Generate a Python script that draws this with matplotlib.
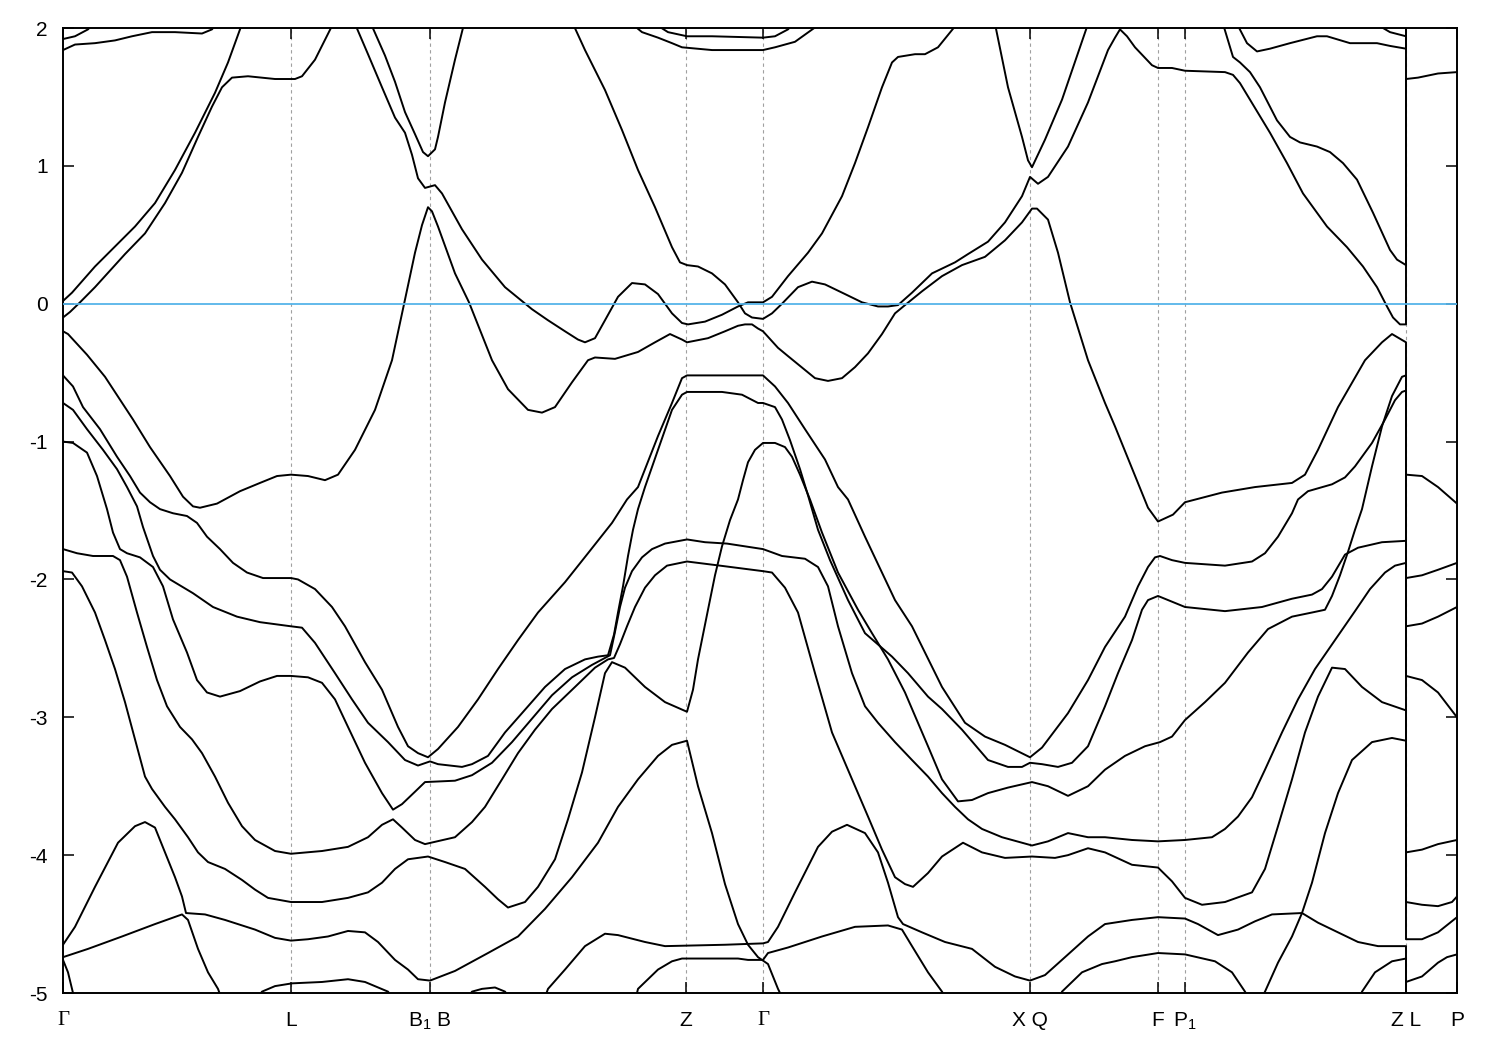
import matplotlib
matplotlib.use('Agg')
import matplotlib.pyplot as plt

plt.rcParams['font.family'] = ['Liberation Sans', 'DejaVu Sans']
plt.rcParams['mathtext.fontset'] = 'custom'
plt.rcParams['mathtext.rm'] = 'Liberation Sans'
plt.rcParams['mathtext.it'] = 'Liberation Sans'
plt.rcParams['axes.unicode_minus'] = False

# high-symmetry points along the k-path (path length units)
k_ticks = [0.00, 2.28, 3.67, 6.23, 7.00, 9.67, 10.95, 11.22, 13.43, 13.94]
k_labels = ['Γ', 'L', 'B$_1$ B', 'Z', 'Γ', 'X Q', 'F', 'P$_1$', 'Z L', 'P']
e_ticks = [-5, -4, -3, -2, -1, 0, 1, 2]

# bands: (k, energy in eV)
band_t1 = [(0.00, 1.92), (0.12, 1.94), (0.25, 1.99), (0.30, 2.03)]
band_t2 = [(0.00, 1.84), (0.12, 1.88), (0.32, 1.89), (0.52, 1.91), (0.69, 1.94), (0.89, 1.97),
           (1.12, 1.97), (1.39, 1.96), (1.49, 1.99), (1.53, 2.03)]
band_c3 = [(0.00, 0.02), (0.09, 0.08), (0.32, 0.27), (0.72, 0.56), (0.92, 0.73), (1.12, 0.97),
           (1.32, 1.24), (1.52, 1.53), (1.65, 1.75), (1.79, 2.03)]
band_c4 = [(0.00, -0.10), (0.07, -0.06), (0.17, 0.01), (0.32, 0.12), (0.62, 0.36), (0.82, 0.51),
           (1.02, 0.73), (1.19, 0.95), (1.35, 1.21), (1.49, 1.43), (1.59, 1.57), (1.69, 1.64),
           (1.85, 1.65), (2.12, 1.63), (2.32, 1.63), (2.39, 1.65), (2.52, 1.77), (2.70, 2.03)]
band_c5 = [(0.00, -0.20), (0.05, -0.22), (0.24, -0.37), (0.42, -0.53), (0.70, -0.84), (0.87, -1.04),
           (1.07, -1.25), (1.20, -1.40), (1.30, -1.47), (1.37, -1.48), (1.54, -1.45), (1.77, -1.36),
           (1.97, -1.30), (2.14, -1.25), (2.28, -1.24), (2.45, -1.25), (2.62, -1.28), (2.75, -1.24),
           (2.92, -1.06), (3.12, -0.77), (3.29, -0.41), (3.42, 0.03), (3.52, 0.37), (3.59, 0.57),
           (3.65, 0.70), (3.69, 0.67), (3.75, 0.56), (3.92, 0.22), (4.06, 0.01), (4.29, -0.41),
           (4.45, -0.62), (4.65, -0.77), (4.79, -0.79), (4.92, -0.75), (5.09, -0.57), (5.25, -0.41),
           (5.32, -0.39), (5.52, -0.40), (5.75, -0.35), (5.92, -0.28), (6.07, -0.22), (6.19, -0.26),
           (6.24, -0.28), (6.45, -0.25), (6.62, -0.20), (6.75, -0.16), (6.82, -0.15), (6.89, -0.15),
           (6.95, -0.18), (7.00, -0.20), (7.15, -0.32), (7.25, -0.38), (7.52, -0.54), (7.65, -0.56),
           (7.79, -0.54), (7.92, -0.46), (8.05, -0.36), (8.19, -0.22), (8.32, -0.07), (8.42, -0.01),
           (8.59, 0.09), (8.79, 0.20), (8.99, 0.28), (9.22, 0.34), (9.42, 0.46), (9.59, 0.59),
           (9.69, 0.69), (9.74, 0.69), (9.85, 0.61), (9.95, 0.37), (10.07, 0.01), (10.25, -0.41),
           (10.42, -0.72), (10.52, -0.89), (10.85, -1.48), (10.95, -1.58), (11.10, -1.53), (11.22, -1.44),
           (11.59, -1.37), (11.92, -1.33), (12.29, -1.30), (12.42, -1.24), (12.55, -1.06), (12.75, -0.75),
           (13.02, -0.41), (13.19, -0.28), (13.29, -0.22), (13.43, -0.28), (13.43, -1.24), (13.59, -1.25),
           (13.75, -1.33), (13.94, -1.45)]
band_c6 = [(3.08, 2.03), (3.22, 1.80), (3.32, 1.61), (3.42, 1.39), (3.52, 1.23), (3.60, 1.10),
           (3.65, 1.07), (3.72, 1.12), (3.75, 1.21), (3.82, 1.46), (3.92, 1.77), (4.01, 2.03)]
band_c7 = [(2.92, 2.03), (3.05, 1.81), (3.19, 1.57), (3.32, 1.35), (3.42, 1.24), (3.49, 1.08),
           (3.55, 0.91), (3.62, 0.84), (3.67, 0.85), (3.72, 0.86), (3.79, 0.80), (3.99, 0.54),
           (4.19, 0.32), (4.42, 0.12), (4.69, -0.04), (4.85, -0.12), (5.02, -0.20), (5.15, -0.26),
           (5.22, -0.28), (5.32, -0.25), (5.42, -0.12), (5.55, 0.05), (5.69, 0.15), (5.82, 0.14),
           (5.95, 0.07), (6.09, -0.07), (6.19, -0.14), (6.25, -0.15), (6.42, -0.13), (6.59, -0.08),
           (6.75, -0.02), (6.85, 0.01), (7.00, 0.01), (7.09, 0.05), (7.25, 0.20), (7.45, 0.37),
           (7.59, 0.51), (7.79, 0.78), (7.92, 1.02), (8.05, 1.28), (8.19, 1.57), (8.29, 1.75),
           (8.35, 1.79), (8.52, 1.81), (8.62, 1.81), (8.75, 1.86), (8.94, 2.03)]
band_c8 = [(5.10, 2.03), (5.22, 1.84), (5.42, 1.55), (5.59, 1.26), (5.75, 0.97), (5.92, 0.70),
           (6.09, 0.41), (6.17, 0.30), (6.24, 0.28), (6.35, 0.27), (6.49, 0.22), (6.62, 0.14),
           (6.75, 0.01), (6.82, -0.07), (6.89, -0.10), (7.00, -0.11), (7.09, -0.07), (7.19, 0.00),
           (7.35, 0.12), (7.49, 0.16), (7.62, 0.14), (7.82, 0.07), (7.99, 0.01), (8.15, -0.02),
           (8.25, -0.02), (8.35, -0.01), (8.49, 0.08), (8.69, 0.22), (8.92, 0.30), (9.05, 0.36),
           (9.25, 0.45), (9.42, 0.59), (9.59, 0.78), (9.67, 0.92), (9.75, 0.87), (9.85, 0.92),
           (10.05, 1.14), (10.25, 1.46), (10.45, 1.84), (10.52, 1.93), (10.57, 1.99), (10.64, 1.94),
           (10.72, 1.86), (10.89, 1.73), (10.95, 1.71), (11.09, 1.71), (11.22, 1.69), (11.62, 1.68),
           (11.70, 1.66), (11.77, 1.60), (11.87, 1.48), (12.07, 1.24), (12.24, 1.02), (12.40, 0.80),
           (12.64, 0.56), (12.84, 0.41), (13.00, 0.27), (13.14, 0.12), (13.24, -0.02), (13.30, -0.10),
           (13.37, -0.15), (13.43, -0.15), (13.43, 1.63), (13.55, 1.64), (13.75, 1.67), (13.94, 1.68)]
band_c9 = [(9.32, 2.03), (9.45, 1.57), (9.59, 1.21), (9.65, 1.04), (9.69, 0.99), (9.82, 1.19),
           (9.99, 1.48), (10.25, 2.03)]
band_tg1 = [(5.69, 2.03), (5.79, 1.97), (5.95, 1.93), (6.09, 1.89), (6.19, 1.86), (6.49, 1.84),
            (7.00, 1.84), (7.12, 1.86), (7.32, 1.90), (7.57, 2.03)]
band_tg2 = [(5.92, 2.03), (6.05, 1.97), (6.24, 1.94), (6.49, 1.94), (7.00, 1.93), (7.12, 1.94),
            (7.25, 1.99), (7.30, 2.03)]
band_r1 = [(11.60, 2.03), (11.70, 1.79), (11.77, 1.75), (11.87, 1.68), (11.97, 1.57), (12.14, 1.33),
           (12.27, 1.21), (12.37, 1.17), (12.54, 1.14), (12.67, 1.10), (12.80, 1.02), (12.94, 0.90),
           (13.10, 0.66), (13.27, 0.39), (13.34, 0.32), (13.43, 0.28), (13.43, 2.30)]
band_r2 = [(11.74, 2.03), (11.84, 1.89), (11.94, 1.83), (12.07, 1.85), (12.27, 1.89), (12.54, 1.94),
           (12.64, 1.94), (12.87, 1.89), (13.14, 1.89), (13.27, 1.87), (13.43, 1.85), (13.43, 2.30)]
band_r3 = [(13.13, 2.03), (13.27, 1.97), (13.43, 1.94), (13.43, 2.30)]
band_l2 = [(0.00, -0.52), (0.10, -0.60), (0.20, -0.75), (0.37, -0.91), (0.54, -1.11), (0.67, -1.25),
           (0.77, -1.37), (0.87, -1.44), (0.97, -1.49), (1.10, -1.52), (1.24, -1.54), (1.34, -1.59),
           (1.44, -1.69), (1.57, -1.78), (1.70, -1.88), (1.84, -1.95), (2.00, -1.99), (2.28, -1.99),
           (2.35, -2.00), (2.52, -2.07), (2.69, -2.20), (2.82, -2.34), (3.02, -2.60), (3.19, -2.80),
           (3.35, -3.07), (3.45, -3.21), (3.55, -3.26), (3.65, -3.29), (3.75, -3.23), (3.95, -3.07),
           (4.15, -2.87), (4.35, -2.65), (4.55, -2.44), (4.75, -2.24), (5.02, -2.02), (5.25, -1.81),
           (5.49, -1.59), (5.64, -1.42), (5.75, -1.33), (5.95, -0.96), (6.09, -0.72), (6.19, -0.54),
           (6.24, -0.52), (7.00, -0.52), (7.12, -0.60), (7.25, -0.72), (7.42, -0.91), (7.62, -1.13),
           (7.75, -1.33), (7.85, -1.42), (8.02, -1.69), (8.32, -2.15), (8.49, -2.34), (8.79, -2.78),
           (9.02, -3.04), (9.22, -3.14), (9.42, -3.20), (9.67, -3.29), (9.79, -3.22), (10.05, -2.97),
           (10.25, -2.73), (10.42, -2.49), (10.62, -2.27), (10.75, -2.05), (10.85, -1.91), (10.92, -1.84),
           (10.97, -1.83), (11.09, -1.86), (11.22, -1.88), (11.42, -1.89), (11.62, -1.90), (11.89, -1.87),
           (12.02, -1.81), (12.15, -1.69), (12.29, -1.52), (12.35, -1.42), (12.45, -1.36), (12.69, -1.31),
           (12.82, -1.26), (12.92, -1.18), (13.09, -1.01), (13.22, -0.84), (13.32, -0.70), (13.39, -0.64),
           (13.43, -0.63), (13.43, -2.34), (13.59, -2.32), (13.75, -2.27), (13.94, -2.20)]
band_l3 = [(0.00, -0.72), (0.10, -0.77), (0.24, -0.91), (0.40, -1.06), (0.54, -1.20), (0.64, -1.33),
           (0.74, -1.47), (0.80, -1.62), (0.90, -1.83), (0.97, -1.93), (1.07, -2.00), (1.30, -2.10),
           (1.50, -2.20), (1.74, -2.27), (1.97, -2.31), (2.28, -2.34), (2.39, -2.35), (2.52, -2.46),
           (2.72, -2.68), (2.89, -2.87), (3.05, -3.04), (3.25, -3.18), (3.42, -3.31), (3.55, -3.35),
           (3.67, -3.32), (3.75, -3.34), (3.99, -3.36), (4.09, -3.34), (4.25, -3.28), (4.42, -3.11),
           (4.59, -2.97), (4.82, -2.78), (5.02, -2.65), (5.22, -2.58), (5.35, -2.56), (5.45, -2.55),
           (5.51, -2.40), (5.55, -2.24), (5.60, -2.05), (5.65, -1.83), (5.70, -1.64), (5.75, -1.49),
           (5.82, -1.33), (5.95, -1.06), (6.09, -0.77), (6.19, -0.66), (6.24, -0.64), (6.59, -0.64),
           (6.79, -0.66), (6.95, -0.72), (7.00, -0.72), (7.12, -0.75), (7.19, -0.84), (7.27, -0.99),
           (7.37, -1.20), (7.45, -1.39), (7.55, -1.64), (7.67, -1.86), (7.85, -2.15), (8.02, -2.39),
           (8.29, -2.56), (8.45, -2.68), (8.65, -2.85), (8.79, -2.94), (8.99, -3.09), (9.25, -3.31),
           (9.45, -3.36), (9.59, -3.36), (9.67, -3.33), (9.79, -3.34), (9.95, -3.36), (10.09, -3.33),
           (10.25, -3.21), (10.42, -2.92), (10.55, -2.68), (10.69, -2.44), (10.79, -2.22), (10.85, -2.15),
           (10.95, -2.12), (11.22, -2.20), (11.62, -2.23), (11.99, -2.20), (12.29, -2.14), (12.49, -2.11),
           (12.59, -2.07), (12.69, -1.98), (12.82, -1.82), (12.95, -1.77), (13.19, -1.73), (13.43, -1.72),
           (13.43, -2.70), (13.59, -2.73), (13.75, -2.82), (13.94, -3.00)]
band_l4 = [(0.00, -1.00), (0.10, -1.01), (0.24, -1.08), (0.34, -1.25), (0.44, -1.49), (0.50, -1.66),
           (0.57, -1.78), (0.64, -1.81), (0.77, -1.84), (0.90, -1.91), (1.00, -2.05), (1.10, -2.29),
           (1.24, -2.53), (1.34, -2.73), (1.44, -2.82), (1.57, -2.85), (1.77, -2.81), (1.97, -2.74),
           (2.14, -2.70), (2.28, -2.70), (2.45, -2.71), (2.59, -2.75), (2.72, -2.87), (2.85, -3.07),
           (3.02, -3.33), (3.19, -3.55), (3.30, -3.67), (3.39, -3.63), (3.52, -3.54), (3.62, -3.47),
           (3.92, -3.46), (4.09, -3.42), (4.29, -3.33), (4.49, -3.18), (4.69, -3.01), (4.89, -2.84),
           (5.09, -2.71), (5.29, -2.62), (5.47, -2.55), (5.52, -2.38), (5.57, -2.20), (5.62, -2.06),
           (5.69, -1.94), (5.79, -1.84), (5.89, -1.78), (6.02, -1.74), (6.24, -1.71), (6.42, -1.73),
           (6.64, -1.74), (7.00, -1.78), (7.19, -1.83), (7.42, -1.85), (7.55, -1.91), (7.65, -2.05),
           (7.75, -2.34), (7.89, -2.68), (8.02, -2.92), (8.15, -3.04), (8.32, -3.18), (8.49, -3.31),
           (8.65, -3.43), (8.79, -3.55), (8.92, -3.65), (9.05, -3.74), (9.19, -3.81), (9.39, -3.87),
           (9.59, -3.91), (9.69, -3.93), (9.85, -3.90), (10.05, -3.84), (10.25, -3.87), (10.42, -3.87),
           (10.69, -3.89), (10.95, -3.90), (11.22, -3.89), (11.49, -3.87), (11.62, -3.81), (11.75, -3.72),
           (11.89, -3.58), (12.02, -3.38), (12.19, -3.11), (12.35, -2.87), (12.52, -2.65), (12.72, -2.44),
           (12.92, -2.23), (13.07, -2.07), (13.22, -1.95), (13.32, -1.90), (13.43, -1.88), (13.43, -3.98),
           (13.59, -3.96), (13.75, -3.92), (13.94, -3.89)]
band_l5 = [(0.00, -1.78), (0.14, -1.81), (0.30, -1.83), (0.50, -1.83), (0.57, -1.86), (0.64, -1.98),
           (0.74, -2.24), (0.84, -2.49), (0.94, -2.73), (1.04, -2.92), (1.17, -3.07), (1.29, -3.16),
           (1.39, -3.26), (1.52, -3.43), (1.65, -3.62), (1.79, -3.79), (1.92, -3.89), (2.12, -3.97),
           (2.28, -3.99), (2.59, -3.97), (2.85, -3.94), (3.05, -3.87), (3.19, -3.78), (3.30, -3.74),
           (3.39, -3.80), (3.52, -3.89), (3.62, -3.92), (3.92, -3.87), (4.09, -3.76), (4.22, -3.65),
           (4.39, -3.45), (4.55, -3.26), (4.72, -3.09), (4.89, -2.94), (5.12, -2.78), (5.32, -2.64),
           (5.45, -2.58), (5.51, -2.57), (5.57, -2.47), (5.64, -2.34), (5.72, -2.20), (5.82, -2.06),
           (5.92, -1.97), (6.04, -1.90), (6.24, -1.87), (6.57, -1.90), (7.00, -1.94), (7.09, -1.95),
           (7.22, -2.06), (7.35, -2.24), (7.52, -2.68), (7.69, -3.11), (7.92, -3.50), (8.05, -3.72),
           (8.19, -3.96), (8.32, -4.16), (8.42, -4.21), (8.50, -4.23), (8.65, -4.13), (8.79, -4.01),
           (9.00, -3.91), (9.19, -3.98), (9.42, -4.02), (9.69, -4.01), (9.92, -4.02), (10.05, -4.00),
           (10.25, -3.95), (10.42, -3.98), (10.69, -4.07), (10.95, -4.09), (11.09, -4.19), (11.22, -4.31),
           (11.39, -4.36), (11.62, -4.34), (11.89, -4.27), (12.02, -4.10), (12.15, -3.79), (12.29, -3.45),
           (12.42, -3.11), (12.55, -2.85), (12.69, -2.64), (12.82, -2.65), (12.99, -2.78), (13.19, -2.89),
           (13.43, -2.95), (13.43, -4.34), (13.59, -4.36), (13.75, -4.37), (13.89, -4.34), (13.94, -4.30)]
band_l6 = [(0.00, -1.94), (0.09, -1.95), (0.19, -2.05), (0.32, -2.24), (0.42, -2.44), (0.52, -2.65),
           (0.62, -2.89), (0.72, -3.16), (0.82, -3.43), (0.89, -3.52), (1.02, -3.65), (1.12, -3.74),
           (1.25, -3.87), (1.35, -3.98), (1.45, -4.05), (1.62, -4.10), (1.79, -4.18), (1.92, -4.25),
           (2.05, -4.31), (2.28, -4.34), (2.59, -4.34), (2.85, -4.31), (3.05, -4.27), (3.19, -4.20),
           (3.32, -4.10), (3.45, -4.03), (3.65, -4.01), (3.82, -4.05), (4.02, -4.10), (4.22, -4.23),
           (4.35, -4.32), (4.45, -4.38), (4.62, -4.34), (4.75, -4.23), (4.92, -4.03), (5.05, -3.74),
           (5.19, -3.40), (5.32, -3.00), (5.42, -2.68), (5.49, -2.60), (5.62, -2.64), (5.82, -2.78),
           (6.02, -2.89), (6.24, -2.96), (6.30, -2.80), (6.35, -2.58), (6.45, -2.22), (6.52, -1.97),
           (6.59, -1.76), (6.67, -1.57), (6.75, -1.42), (6.80, -1.28), (6.85, -1.15), (6.92, -1.06),
           (7.00, -1.01), (7.12, -1.01), (7.22, -1.04), (7.29, -1.11), (7.37, -1.24), (7.47, -1.42),
           (7.59, -1.66), (7.75, -1.95), (7.95, -2.22), (8.09, -2.39), (8.25, -2.58), (8.42, -2.82),
           (8.65, -3.21), (8.79, -3.45), (8.95, -3.61), (9.09, -3.60), (9.25, -3.55), (9.45, -3.51),
           (9.69, -3.47), (9.85, -3.50), (10.05, -3.57), (10.25, -3.50), (10.42, -3.38), (10.62, -3.28),
           (10.82, -3.21), (10.97, -3.18), (11.09, -3.14), (11.22, -3.02), (11.42, -2.89), (11.62, -2.75),
           (11.85, -2.53), (12.05, -2.36), (12.29, -2.27), (12.49, -2.24), (12.62, -2.22), (12.69, -2.12),
           (12.77, -1.97), (12.85, -1.80), (12.92, -1.64), (12.99, -1.49), (13.09, -1.18), (13.19, -0.89),
           (13.29, -0.67), (13.39, -0.53), (13.43, -0.52), (13.43, -1.99), (13.59, -1.97), (13.75, -1.93),
           (13.94, -1.88)]
band_g1 = [(0.00, -4.65), (0.12, -4.52), (0.32, -4.23), (0.55, -3.91), (0.72, -3.79), (0.82, -3.76),
           (0.92, -3.80), (1.02, -3.98), (1.12, -4.16), (1.19, -4.30), (1.23, -4.42), (1.42, -4.43),
           (1.62, -4.47), (1.92, -4.54), (2.12, -4.60), (2.28, -4.62), (2.45, -4.61), (2.65, -4.59),
           (2.85, -4.55), (3.02, -4.56), (3.15, -4.63), (3.32, -4.76), (3.45, -4.83), (3.55, -4.90),
           (3.67, -4.91), (3.92, -4.84), (4.25, -4.71), (4.55, -4.59), (4.82, -4.39), (5.09, -4.16),
           (5.35, -3.91), (5.55, -3.65), (5.75, -3.45), (5.95, -3.28), (6.09, -3.20), (6.24, -3.17),
           (6.35, -3.50), (6.49, -3.84), (6.62, -4.21), (6.75, -4.50), (6.85, -4.65), (6.95, -4.74),
           (7.05, -4.79), (7.15, -4.97), (7.19, -5.03)]
band_g2 = [(0.00, -4.74), (0.25, -4.68), (0.59, -4.59), (0.92, -4.50), (1.19, -4.43), (1.25, -4.47),
           (1.35, -4.68), (1.45, -4.85), (1.55, -4.97), (1.58, -5.03)]
band_g3 = [(0.00, -4.76), (0.05, -4.85), (0.09, -4.97), (0.11, -5.03)]
band_g4 = [(1.95, -5.03), (1.99, -4.99), (2.12, -4.95), (2.29, -4.93), (2.59, -4.92), (2.85, -4.90),
           (3.02, -4.92), (3.25, -4.99), (3.29, -5.03)]
band_g5 = [(4.05, -5.03), (4.09, -4.99), (4.19, -4.97), (4.32, -4.96), (4.42, -4.99), (4.46, -5.03)]
band_f = [(4.82, -5.03), (4.85, -4.97), (5.02, -4.83), (5.22, -4.66), (5.42, -4.57), (5.55, -4.58),
          (5.82, -4.63), (6.02, -4.66), (6.62, -4.65), (7.00, -4.64), (7.05, -4.63), (7.15, -4.52),
          (7.32, -4.27), (7.55, -3.94), (7.69, -3.83), (7.84, -3.78), (8.02, -3.84), (8.15, -3.98),
          (8.25, -4.20), (8.35, -4.45), (8.40, -4.50), (8.59, -4.56), (8.82, -4.63), (9.09, -4.68),
          (9.32, -4.81), (9.52, -4.88), (9.67, -4.91), (9.82, -4.87), (10.02, -4.74), (10.25, -4.59),
          (10.42, -4.50), (10.69, -4.47), (10.95, -4.45), (11.22, -4.46), (11.35, -4.50), (11.55, -4.58),
          (11.75, -4.54), (11.92, -4.48), (12.09, -4.43), (12.39, -4.42), (12.55, -4.49), (12.75, -4.56),
          (12.95, -4.63), (13.15, -4.66), (13.43, -4.66), (13.43, -4.92), (13.59, -4.88), (13.75, -4.78),
          (13.84, -4.74), (13.94, -4.72)]
band_hump = [(5.73, -5.03), (5.75, -4.97), (5.95, -4.83), (6.09, -4.77), (6.19, -4.75), (6.75, -4.75),
             (6.85, -4.76), (7.00, -4.76), (7.05, -4.71), (7.25, -4.67), (7.59, -4.59), (7.92, -4.52),
             (8.25, -4.51), (8.39, -4.54), (8.49, -4.66), (8.65, -4.85), (8.79, -4.99), (8.82, -5.03)]
band_b8 = [(9.97, -5.03), (9.99, -4.99), (10.19, -4.85), (10.39, -4.79), (10.52, -4.77), (10.69, -4.74),
           (10.95, -4.71), (11.22, -4.72), (11.52, -4.77), (11.69, -4.85), (11.82, -4.99), (11.85, -5.03)]
band_b9 = [(11.99, -5.03), (12.02, -4.99), (12.15, -4.78), (12.29, -4.59), (12.39, -4.42), (12.49, -4.20),
           (12.62, -3.84), (12.75, -3.55), (12.89, -3.31), (13.09, -3.18), (13.29, -3.15), (13.43, -3.17),
           (13.43, -4.61), (13.59, -4.61), (13.75, -4.56), (13.94, -4.45)]
band_b11 = [(12.97, -5.03), (12.99, -4.99), (13.12, -4.85), (13.29, -4.77), (13.43, -4.75), (13.43, -5.30)]

bands = [band_t1, band_t2, band_c3, band_c4, band_c5, band_c6, band_c7, band_c8, band_c9,
         band_tg1, band_tg2, band_r1, band_r2, band_r3, band_l2, band_l3, band_l4, band_l5,
         band_l6, band_g1, band_g2, band_g3, band_g4, band_g5, band_f, band_hump, band_b8,
         band_b9, band_b11]

fig = plt.figure(figsize=(15, 10.5), dpi=100)
ax = fig.add_axes([63 / 1500, 57 / 1050, 1394 / 1500, 965 / 1050])

# dotted lines at the inner high-symmetry points
for k in k_ticks[1:-1]:
    ax.axvline(k, color='#a0a0a0', lw=0.8, ls=(0, (3, 3)), zorder=1)

for band in bands:
    k, e = zip(*band)
    ax.plot(k, e, color='black', lw=1.4, zorder=2, solid_joinstyle='round')

# Fermi level
ax.axhline(0, color='#56B4E9', lw=1.3, zorder=3)

ax.set_xlim(k_ticks[0], k_ticks[-1])
ax.set_ylim(-5, 2)
ax.set_xticks(k_ticks, k_labels)
ax.set_yticks(e_ticks, [str(v) for v in e_ticks])
ax.tick_params(axis='both', direction='in', length=8, width=1.1, top=True, right=True,
               labelsize=15, color='black')
ax.tick_params(axis='x', pad=13)
ax.tick_params(axis='y', pad=11)
for lbl in ax.get_xticklabels():
    if lbl.get_text() == 'Γ':
        lbl.set_fontfamily('Liberation Serif')
for s in ax.spines.values():
    s.set_linewidth(1.4)

fig.savefig('out.png', dpi=100)
